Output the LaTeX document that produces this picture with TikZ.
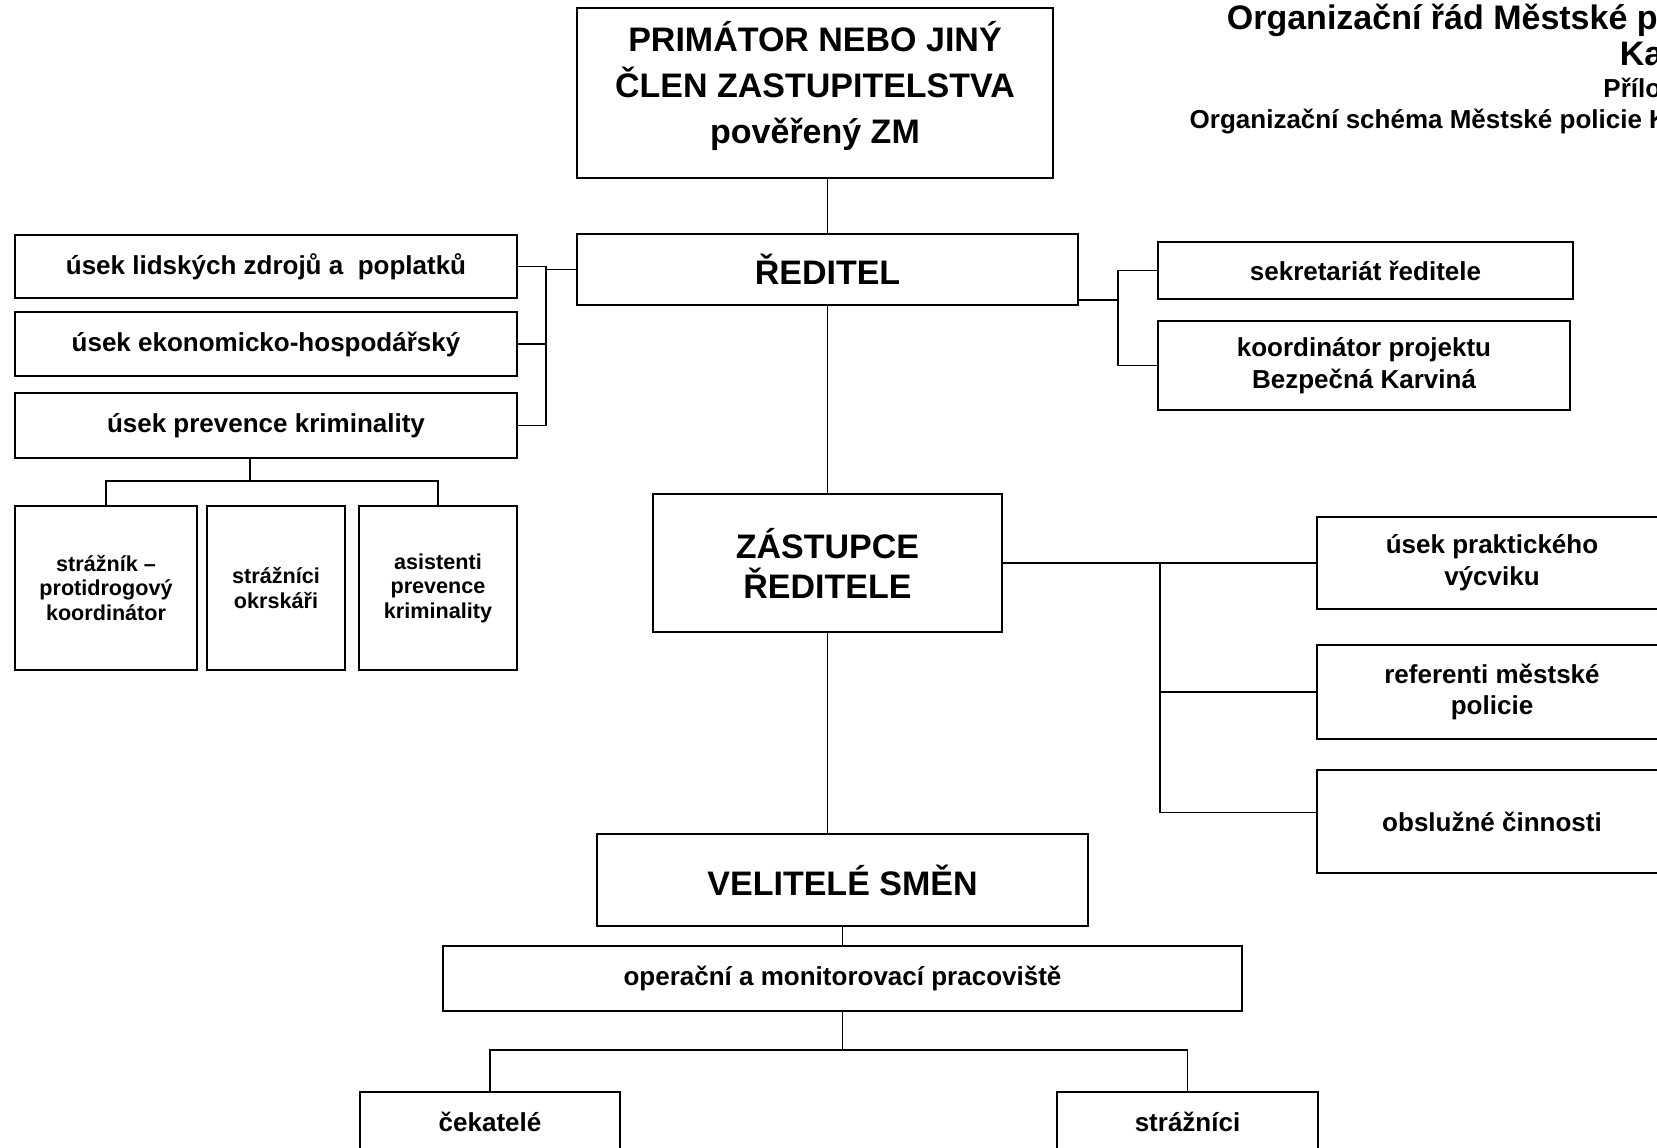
\documentclass[tikz,border=0pt]{standalone}
\usepackage{fontspec}
\setmainfont{Liberation Sans}
\usetikzlibrary{positioning,calc}

\tikzset{
  orgbox/.style n args={2}{draw, line width=1.1pt, inner sep=0pt, align=center,
    minimum width=#1*0.5pt, minimum height=#2*0.5pt,
    font=\bfseries\fontsize{13}{15.9}\selectfont},
  bigtext/.style={font=\bfseries\fontsize{17}{23}\selectfont},
  smalltext/.style={font=\bfseries\fontsize{10.8}{12.2}\selectfont},
  link/.style={line width=0.8pt},
  titletext/.style={anchor=base east, inner sep=0pt}
}

\begin{document}
\begin{tikzpicture}[x=0.5pt, y=-0.5pt]
    \useasboundingbox (0,0) rectangle (1657,1147);
    \clip (0,0) rectangle (1657,1147);

    % Title (right aligned, cut by the page edge)
    \node[titletext, bigtext] (tit1) at (1745,29) {Organizační řád Městské policie};
    \node[titletext, bigtext] (tit2) at (1745,65) {Karviná};
    \node[titletext, font=\bfseries\fontsize{13}{15}\selectfont] (tit3) at (1745,97) {Příloha č. 1};
    \node[titletext, font=\bfseries\fontsize{13}{15}\selectfont] (tit4) at (1745,128) {Organizační schéma Městské policie Karviná};

    % Top of the chart
    \node[orgbox={476}{170}] (prim) at (815,93) {};
    \node[bigtext, align=center, inner sep=0pt] (primtext) at (815,86) {PRIMÁTOR NEBO JINÝ\\ČLEN ZASTUPITELSTVA\\pověřený ZM};
    \node[orgbox={501}{71}, bigtext] (red) at (827.5,269.5) {ŘEDITEL};

    % Left units
    \node[orgbox={502}{63}] (lz) at (266,266.5) {úsek lidských zdrojů a \ poplatků};
    \node[orgbox={502}{64}] (ek) at (266,344) {úsek ekonomicko-hospodářský};
    \node[orgbox={502}{65}] (pk) at (266,425.5) {\raisebox{-2pt}{úsek prevence kriminality}};
    \node[orgbox={182}{164}, smalltext] (s1) at (106,588) {strážník –\\protidrogový\\koordinátor};
    \node[orgbox={138}{164}, smalltext] (s2) at (276,588) {strážníci\\okrskáři};
    \node[orgbox={158}{164}, smalltext] (s3) at (438,588) {asistenti\\prevence\\kriminality};

    % Right units of the director
    \node[orgbox={415}{57}] (sek) at (1365.5,270.5) {sekretariát ředitele};
    \node[orgbox={412}{89}] (koor) at (1364,365.5) {koordinátor projektu\\Bezpečná Karviná};

    % Deputy
    \node[orgbox={349}{138}, font=\bfseries\fontsize{17}{20}\selectfont] (zas) at (827.5,563) {ZÁSTUPCE\\ŘEDITELE};
    \node[orgbox={350}{92}] (pv) at (1492,563) {úsek praktického\\výcviku};
    \node[orgbox={350}{94}] (ref) at (1492,692) {referenti městské\\policie};
    \node[orgbox={350}{103}] (obs) at (1492,821.5) {obslužné činnosti};

    % Shifts
    \node[orgbox={491}{92}, bigtext] (vel) at (842.5,880) {VELITELÉ SMĚN};
    \node[orgbox={799}{65}] (op) at (842.5,978.5) {\raisebox{-2pt}{operační a monitorovací pracoviště}};
    \node[orgbox={260}{60}] (cek) at (490,1122) {čekatelé};
    \node[orgbox={261}{60}] (str) at (1187.5,1122) {strážníci};

    % Connectors
    \draw[link] (red.north) -- (red.north |- prim.south);

    \coordinate (lb) at (546,0);
    \draw[link] (red.west) -- (red.west -| lb);
    \draw[link] (lz.east) -- (lz.east -| lb) -- (lb |- pk.east) -- (pk.east);
    \draw[link] (ek.east) -- (ek.east -| lb);

    \coordinate (pkd) at ($(pk.south)+(-16,0)$);
    \coordinate (pb) at (0,481);
    \draw[link] (pkd) -- (pkd |- pb);
    \draw[link] (s1.north) |- (pkd |- pb) -| (s3.north);
    \draw[link] ($(s2.north)+(15,0)$) -- ($(s2.north)+(15,0)$ |- pb);

    \coordinate (rb) at (1118,0);
    \coordinate (redr) at ($(red.south east)+(0,-6)$);
    \draw[link] (redr) -- (redr -| rb);
    \draw[link] (sek.west) -- (sek.west -| rb) -- (rb |- koor.west) -- (koor.west);

    \draw[link] (red.south) -- (zas.north);
    \coordinate (zb) at (1160,0);
    \draw[link] (zas.east) -- (pv.west);
    \draw[link] (zas.east -| zb) |- (ref.west);
    \draw[link] (zas.east -| zb) |- ($(obs.west)+(0,-9)$);

    \draw[link] (zas.south) -- (zas.south |- vel.north);
    \draw[link] (vel.south) -- (op.north);
    \coordinate (ob) at (0,1050);
    \draw[link] (op.south) -- (op.south |- ob);
    \draw[link] (cek.north) |- (op.south |- ob) -| (str.north);

\end{tikzpicture}
\end{document}
